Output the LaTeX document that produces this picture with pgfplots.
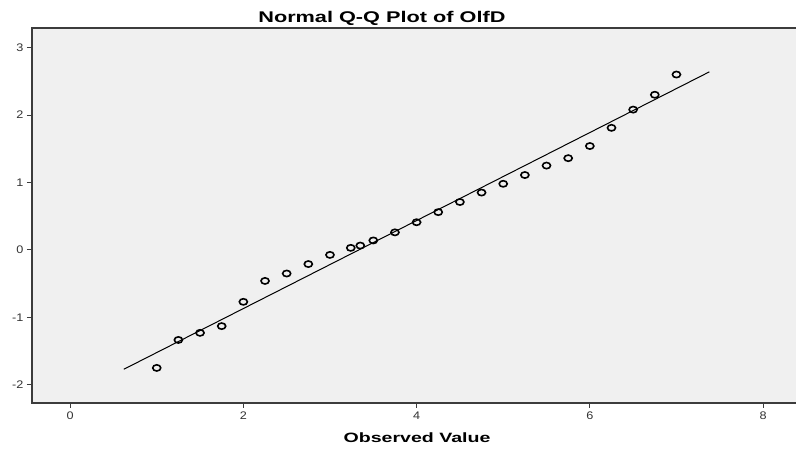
\documentclass[border=0pt]{standalone}
\usepackage{fontspec}
\setmainfont{Liberation Sans}
\newfontfamily\titlefont[FakeStretch=1.4]{Liberation Sans}
\newfontfamily\labelfont[FakeStretch=1.45]{Liberation Sans}
\newfontfamily\tickfont[FakeStretch=1.15]{Liberation Sans}
\usepackage{pgfplots}
\pgfplotsset{compat=1.18}
\definecolor{plotbg}{RGB}{240,240,240}
\definecolor{axcol}{RGB}{60,60,60}
\begin{document}
\begin{tikzpicture}[x=1pt,y=1pt]
\useasboundingbox[fill=white] (0,0) rectangle (796,452);
\begin{axis}[
  at={(32pt,49pt)}, anchor=south west,
  scale only axis, width=764pt, height=375pt,
  xmin=-0.44, xmax=8.38, ymin=-2.27, ymax=3.29,
  axis background/.style={fill=plotbg},
  axis line style={draw=none},
  xtick={0,2,4,6,8}, ytick={-2,-1,0,1,2,3},
  xtick pos=lower, ytick pos=left,
  tick align=outside, major tick length=5pt,
  tick style={axcol, line width=1pt},
  ticklabel style={font=\tickfont\fontsize{11}{13}\selectfont, text=black!80},
  /pgf/number format/assume math mode=true,
  title={Normal Q-Q Plot of OlfD},
  title style={at={(axis description cs:0.458,1)}, anchor=center, yshift=4pt, font=\titlefont\fontsize{15.5}{18}\selectfont\bfseries},
  xlabel={Observed Value},
  xlabel style={at={(axis description cs:0.504,0)}, anchor=center, yshift=-35pt, font=\labelfont\fontsize{13.5}{16}\selectfont\bfseries},
  clip=false,
]
\addplot[only marks, mark=o, mark size=3.1pt, mark options={xscale=1.3, line width=1.6pt, black}] coordinates {
(1.00,-1.75) (1.25,-1.335) (1.50,-1.23) (1.75,-1.13) (2.00,-0.77)
(2.25,-0.46) (2.50,-0.35) (2.75,-0.21) (3.00,-0.074) (3.24,0.03)
(3.35,0.064) (3.50,0.14) (3.75,0.26) (4.00,0.41) (4.25,0.56)
(4.50,0.71) (4.75,0.85) (5.00,0.98) (5.25,1.11) (5.50,1.25)
(5.75,1.36) (6.00,1.54) (6.25,1.81) (6.50,2.08) (6.75,2.30) (7.00,2.60)
};
\addplot[black, line width=1pt] coordinates {(0.62,-1.77) (7.38,2.64)};
\draw[axcol, line width=1.2pt] (rel axis cs:1,1) -- (rel axis cs:0,1) -- (rel axis cs:0,0) -- (rel axis cs:1,0);
\end{axis}
\end{tikzpicture}
\end{document}
